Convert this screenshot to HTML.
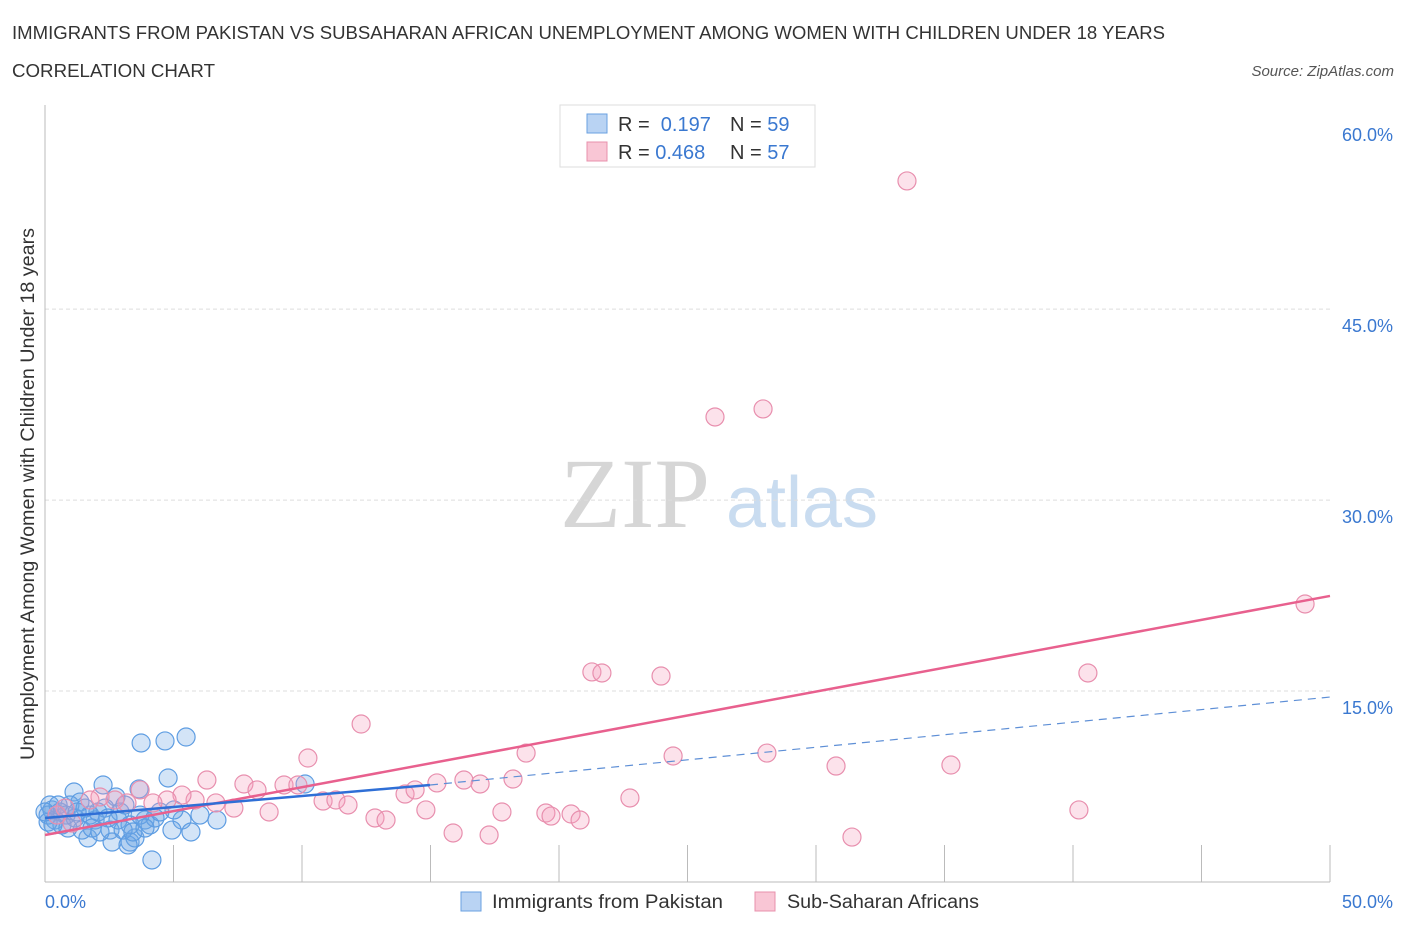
<!DOCTYPE html>
<html><head><meta charset="utf-8"><style>
body{margin:0;background:#fff;font-family:"Liberation Sans",sans-serif;}
svg text{font-family:"Liberation Sans",sans-serif;}
</style></head><body>
<svg id="c" width="1406" height="930" xmlns="http://www.w3.org/2000/svg">
<text x="12" y="39" font-size="18" fill="#333" textLength="1153" lengthAdjust="spacingAndGlyphs">IMMIGRANTS FROM PAKISTAN VS SUBSAHARAN AFRICAN UNEMPLOYMENT AMONG WOMEN WITH CHILDREN UNDER 18 YEARS</text>
<text x="12" y="77" font-size="18" fill="#333" textLength="203" lengthAdjust="spacingAndGlyphs">CORRELATION CHART</text>
<text x="1394" y="76" font-size="15" fill="#555" font-style="italic" text-anchor="end">Source: ZipAtlas.com</text>
<g><text x="635" y="527" font-size="100" fill="#d6d6d6" style="font-family:'Liberation Serif',serif" text-anchor="middle">ZIP</text><text x="802" y="527" font-size="72" fill="#c9dcf0" text-anchor="middle">atlas</text></g>
<g id="grid"></g>
<line x1="45" y1="105" x2="45" y2="882" stroke="#bbb"/>
<line x1="45" y1="882" x2="1330" y2="882" stroke="#bbb"/>
<text transform="translate(34,494) rotate(-90)" font-size="19" fill="#333" text-anchor="middle" textLength="532" lengthAdjust="spacingAndGlyphs">Unemployment Among Women with Children Under 18 years</text>
<text x="45" y="908" font-size="18" fill="#3a78d0">0.0%</text>
<text x="1393" y="908" font-size="18" fill="#3a78d0" text-anchor="end">50.0%</text>
<g id="pts"></g>
<g id="lines"></g>
<g>
<rect x="560" y="105" width="255" height="62" fill="#fff" stroke="#ddd"/>
<rect x="587" y="114" width="20" height="19" fill="#b9d3f3" stroke="#6aa0e0"/>
<rect x="587" y="142" width="20" height="19" fill="#f9c6d5" stroke="#e890ac"/>
<text x="618" y="131" font-size="20" fill="#333">R = <tspan fill="#3a78d0">&#160;0.197</tspan><tspan x="730">N = </tspan><tspan fill="#3a78d0">59</tspan></text>
<text x="618" y="159" font-size="20" fill="#333">R = <tspan fill="#3a78d0">0.468</tspan><tspan x="730">N = </tspan><tspan fill="#3a78d0">57</tspan></text>
</g>
<g>
<rect x="461" y="892" width="20" height="19" fill="#b9d3f3" stroke="#6aa0e0"/>
<text x="492" y="908" font-size="19" fill="#333" textLength="231" lengthAdjust="spacingAndGlyphs">Immigrants from Pakistan</text>
<rect x="755" y="892" width="20" height="19" fill="#f9c6d5" stroke="#e890ac"/>
<text x="787" y="908" font-size="19" fill="#333" textLength="192" lengthAdjust="spacingAndGlyphs">Sub-Saharan Africans</text>
</g>
</svg>
<script>
const yTicks=[15,30,45,60];
const yTickLabels=["15.0%","30.0%","45.0%","60.0%"];
const xTicks=[0,5,10,15,20,25,30,35,40,45,50];
const pinkX=[33.54,26.07,27.94,49.03,40.58,21.28,21.67,23.97,12.30,10.23,18.72,24.44,28.09,30.78,35.25,6.30,7.74,8.25,9.30,9.84,14.01,14.40,15.25,16.30,16.93,18.21,22.76,40.23,10.82,11.32,11.79,8.72,7.35,6.65,5.84,5.33,4.75,4.20,12.84,13.27,14.82,17.78,19.49,19.69,20.47,20.82,15.88,17.28,31.40,3.19,2.72,2.14,1.75,0.78,0.47,1.05,3.70];
const pinkY=[55.07,36.53,37.16,21.84,16.42,16.50,16.42,16.18,12.41,9.74,10.13,9.90,10.13,9.11,9.19,8.01,7.70,7.23,7.62,7.62,6.91,7.23,7.78,8.01,7.70,8.09,6.60,5.66,6.36,6.44,6.05,5.50,5.81,6.21,6.44,6.83,6.44,6.21,5.03,4.87,5.66,5.50,5.42,5.18,5.34,4.87,3.85,3.69,3.53,6.21,6.44,6.68,6.44,5.81,5.26,4.63,7.23];
const blueX=[5.49,4.67,3.74,4.79,2.26,1.13,2.76,3.66,10.12,1.36,0.19,0.27,0.58,0.97,1.75,1.95,2.33,2.92,3.11,3.89,4.09,2.53,1.67,2.61,3.31,3.50,3.23,5.33,4.94,5.68,6.69,5.02,4.16,0.12,0.39,0.66,1.17,1.44,1.83,2.06,2.45,2.84,2.14,1.56,0.82,0.51,1.25,3.31,3.70,4.28,4.47,6.03,0.12,0.31,0.89,0.0,3.04,3.42,3.89];
const blueY=[11.39,11.08,10.92,8.17,7.62,7.07,6.68,7.31,7.70,6.28,6.05,5.66,5.50,6.05,5.26,4.87,5.81,5.50,6.05,4.87,4.48,4.08,3.46,3.14,3.14,3.46,2.91,4.87,4.08,3.93,4.87,5.66,1.73,5.26,4.87,4.48,5.03,4.08,4.24,5.50,5.03,4.87,3.93,5.81,5.26,6.05,5.50,4.48,5.26,5.03,5.50,5.26,4.71,4.48,4.24,5.50,4.08,3.93,4.24];
const pinkTrend=[0,3.69,50,22.47];
const blueTrend=[0,5.03,14.98,7.62,50,14.53];
const NS="http://www.w3.org/2000/svg";
const sx=v=>45+v*25.7, sy=v=>882-v*12.73;
function mk(t,a,p){const e=document.createElementNS(NS,t);for(const k in a)e.setAttribute(k,a[k]);p.appendChild(e);return e;}
const grid=document.getElementById('grid');
yTicks.forEach((t,i)=>{
 if(t<60){
 const l=mk('line',{x1:45,x2:1330,y1:sy(t),y2:sy(t),stroke:'#ddd','stroke-dasharray':'4,3'},grid);
 
 
 }
 const tx=mk('text',{x:1393,y:sy(t)+23,'font-size':18,fill:'#3a78d0','text-anchor':'end'},grid);
 tx.textContent=yTickLabels[i];
 
 
});
xTicks.forEach(t=>{
 const l=mk('line',{x1:sx(t),x2:sx(t),y1:845,y2:882,stroke:'#bbb'},grid);
 
 
});
const pts=document.getElementById('pts');
blueX.forEach((x,i)=>{
 const c=mk('circle',{cx:sx(x),cy:sy(blueY[i]),r:9,fill:'rgba(110,165,230,0.3)',stroke:'#5e9de2','stroke-width':1.2},pts);
 
 
});
pinkX.forEach((x,i)=>{
 const c=mk('circle',{cx:sx(x),cy:sy(pinkY[i]),r:9,fill:'rgba(245,160,190,0.3)',stroke:'#e88fae','stroke-width':1.2},pts);
 
 
});
const lines=document.getElementById('lines');
const pl=mk('line',{x1:sx(pinkTrend[0]),y1:sy(pinkTrend[1]),x2:sx(pinkTrend[2]),y2:sy(pinkTrend[3]),stroke:'#e8608e','stroke-width':2.5},lines);


const bl=mk('line',{x1:sx(blueTrend[0]),y1:sy(blueTrend[1]),x2:sx(blueTrend[2]),y2:sy(blueTrend[3]),stroke:'#2f6fd6','stroke-width':2.5},lines);


const bd=mk('line',{x1:sx(blueTrend[2]),y1:sy(blueTrend[3]),x2:sx(blueTrend[4]),y2:sy(blueTrend[5]),stroke:'#5e8fd6','stroke-width':1.2,'stroke-dasharray':'8,6'},lines);


</script>
</body></html>
